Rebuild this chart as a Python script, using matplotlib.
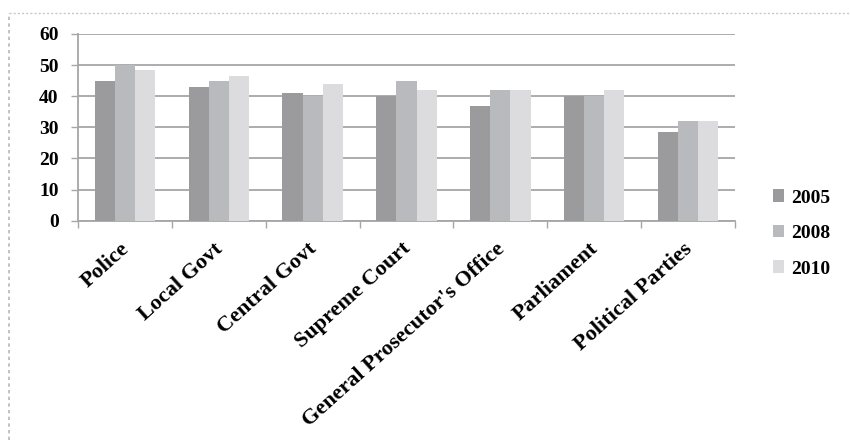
import matplotlib
matplotlib.use("Agg")
import matplotlib.pyplot as plt
import matplotlib.transforms as mtransforms
import numpy as np
from matplotlib.lines import Line2D

categories = ["Police", "Local Govt", "Central Govt", "Supreme Court",
              "General Prosecutor's Office", "Parliament", "Political Parties"]
years = ["2005", "2008", "2010"]
v2005 = [45, 43, 41, 40, 37, 40, 28.5]
v2008 = [50, 45, 40, 45, 42, 40, 32]
v2010 = [48.5, 46.5, 44, 42, 42, 42, 32]
yticks = [0, 10, 20, 30, 40, 50, 60]

colors = ["#9b9b9e", "#b9babd", "#dcdcde"]
series = [v2005, v2008, v2010]

plt.rcParams['font.family'] = ['Liberation Serif', 'DejaVu Serif']
plt.rcParams['font.weight'] = 'bold'

fig = plt.figure(figsize=(8.5, 4.4), dpi=100)
ax = fig.add_axes([78/850, 1 - 220.7/440, (735-78)/850, (220.7-34)/440])

x = np.arange(len(categories))
w = 0.215
for i, (vals, c, yr) in enumerate(zip(series, colors, years)):
    ax.bar(x + (i - 1) * w, vals, width=w, color=c, label=yr, zorder=3, linewidth=0)

ax.set_xlim(-0.5, len(categories) - 0.5)
ax.set_ylim(0, 60)
ax.set_yticks(yticks)
ax.set_yticklabels([str(t) for t in yticks], fontsize=14, fontweight='bold')
ax.yaxis.grid(True, color="#a6a6a6", linewidth=1.3, zorder=0)
ax.tick_params(axis='y', length=5, color="#a6a6a6", width=1, pad=9)

# category labels
ax.set_xticks(x)
ax.set_xticklabels(categories, rotation=42, ha='right', rotation_mode='anchor',
                   fontsize=16, fontweight='bold')
ax.tick_params(axis='x', length=0, pad=13)
shift = mtransforms.ScaledTranslation(-5/100, 0, fig.dpi_scale_trans)
for lbl in ax.get_xticklabels():
    lbl.set_transform(lbl.get_transform() + shift)
# boundary ticks
ax.set_xticks(np.arange(-0.5, len(categories), 1.0), minor=True)
ax.tick_params(axis='x', which='minor', length=5, color="#a6a6a6", width=1)

for s in ['top', 'right']:
    ax.spines[s].set_visible(False)
for s in ['left', 'bottom']:
    ax.spines[s].set_color("#a6a6a6")
    ax.spines[s].set_linewidth(1.3)

leg = fig.legend(loc='upper left', bbox_to_anchor=(755/850, 1 - 172/440), frameon=False,
                 handlelength=0.6, handleheight=0.6, handletextpad=0.35,
                 labelspacing=0.95, prop={'weight': 'bold', 'size': 14})

# dotted frame lines at left and top edges
fig.add_artist(Line2D([9/850, 9/850], [0, 1 - 13/440], color="#b8b8b8", linestyle=(0, (2, 2)),
                      linewidth=1.2, transform=fig.transFigure))
fig.add_artist(Line2D([9/850, 1], [1 - 13/440, 1 - 13/440], color="#c8c8c8", linestyle=(0, (1.5, 1.5)),
                      linewidth=1.0, transform=fig.transFigure))

fig.savefig("out.png", dpi=100)
